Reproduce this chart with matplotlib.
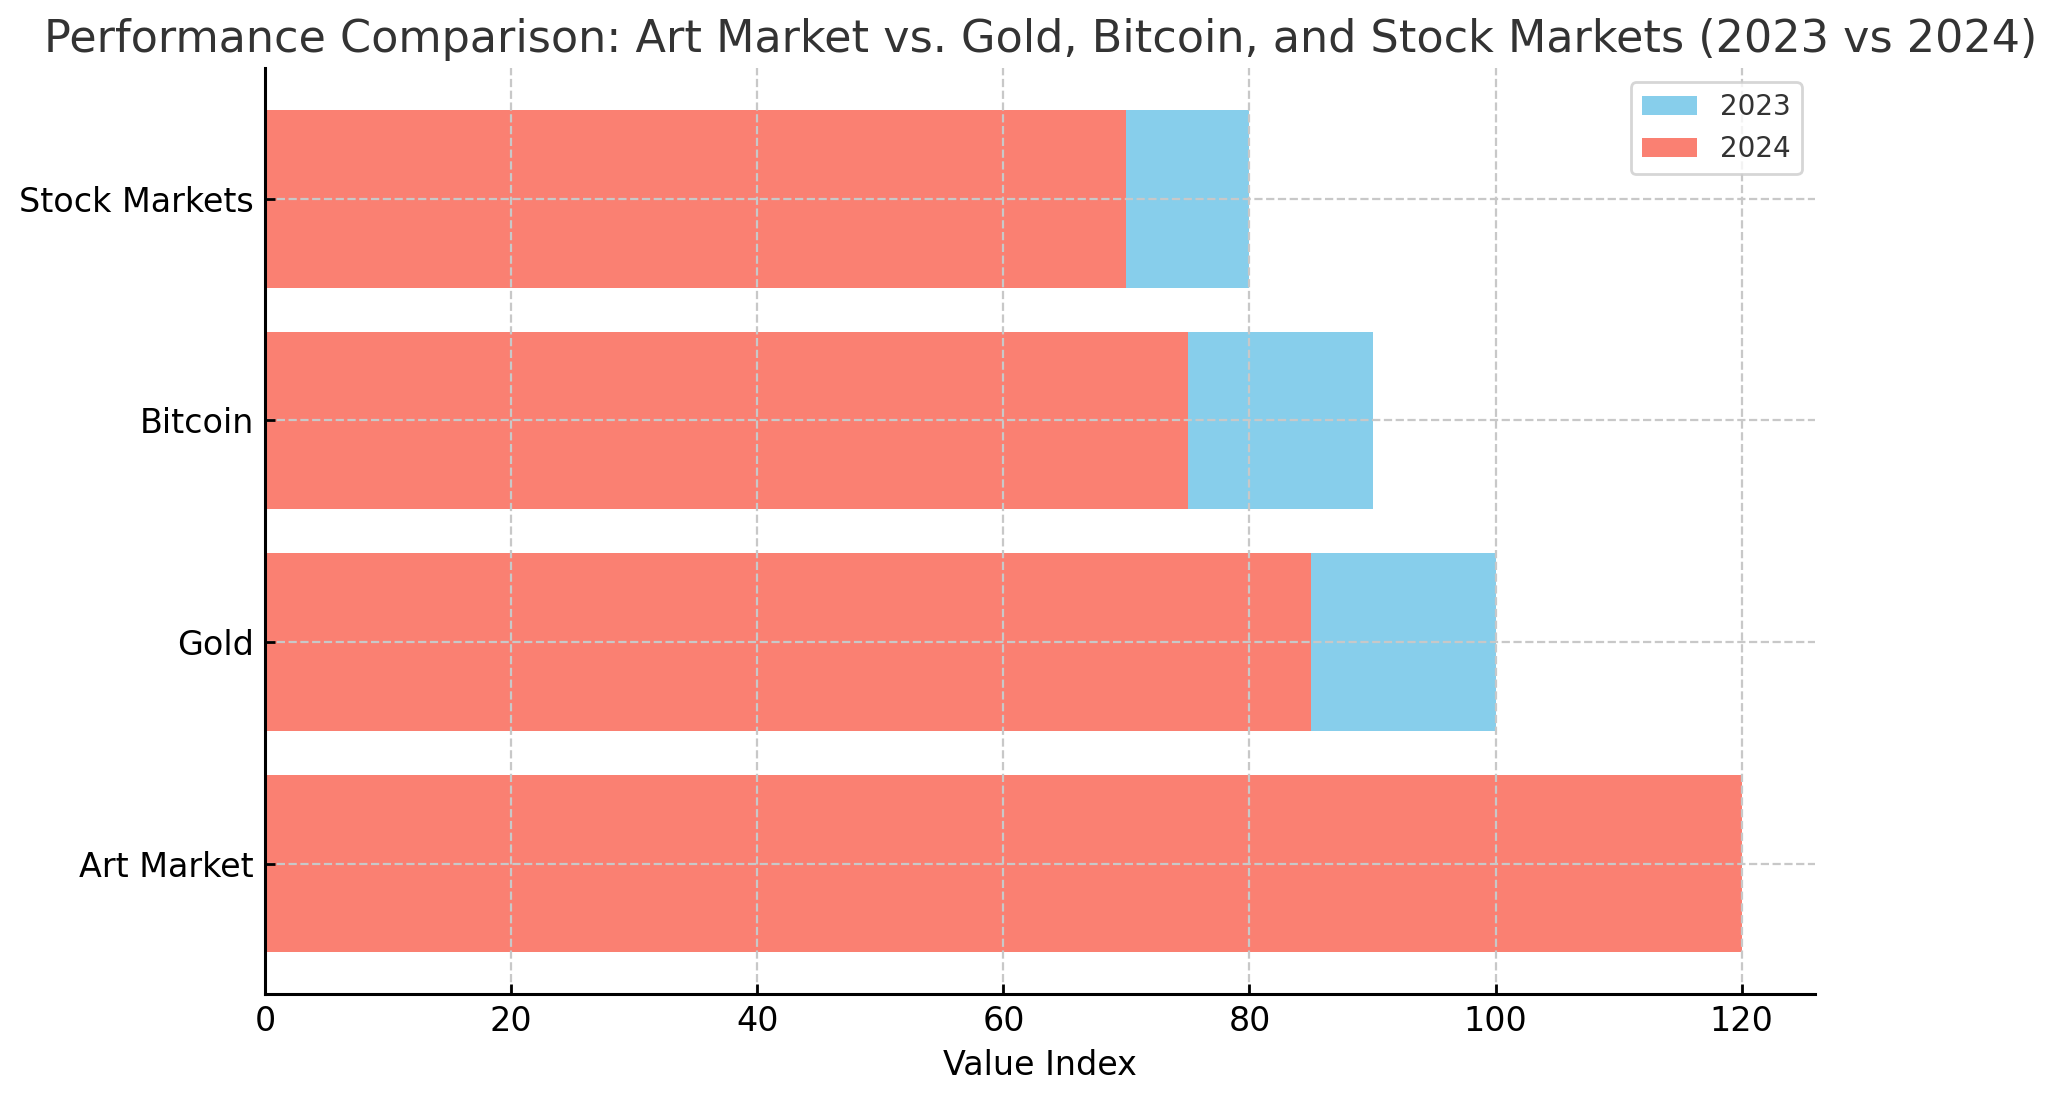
import matplotlib.pyplot as plt
import numpy as np

# Data
categories = ["Art Market", "Gold", "Bitcoin", "Stock Markets"]
values_2023 = [100, 100, 90, 80]
values_2024 = [120, 85, 75, 70]

fig, ax = plt.subplots(figsize=(10.28, 5.505), dpi=200)

y = np.arange(len(categories))
ax.barh(y, values_2023, color="skyblue", label="2023")
ax.barh(y, values_2024, color="salmon", label="2024")

ax.set_yticks(y)
ax.set_yticklabels(categories, fontsize=12)
ax.tick_params(axis="x", labelsize=12)
ax.tick_params(direction="in", length=3.5, width=1, pad=4)
ax.set_xlabel("Value Index", fontsize=12)
ax.set_title("Performance Comparison: Art Market vs. Gold, Bitcoin, and Stock Markets (2023 vs 2024)",
             fontsize=16, color="#333333")

ax.set_axisbelow(False)
ax.grid(True, linestyle="--", color="#c8c8c8", linewidth=0.8)
for s in ["top", "right"]:
    ax.spines[s].set_visible(False)
for s in ["left", "bottom"]:
    ax.spines[s].set_linewidth(1.1)
    ax.spines[s].set_zorder(3)

leg = ax.legend(fontsize=10, loc="upper right")
for t in leg.get_texts():
    t.set_color("#333333")

fig.subplots_adjust(left=0.129, right=0.883, top=0.938, bottom=0.097)
fig.savefig("out.png", dpi=200)
